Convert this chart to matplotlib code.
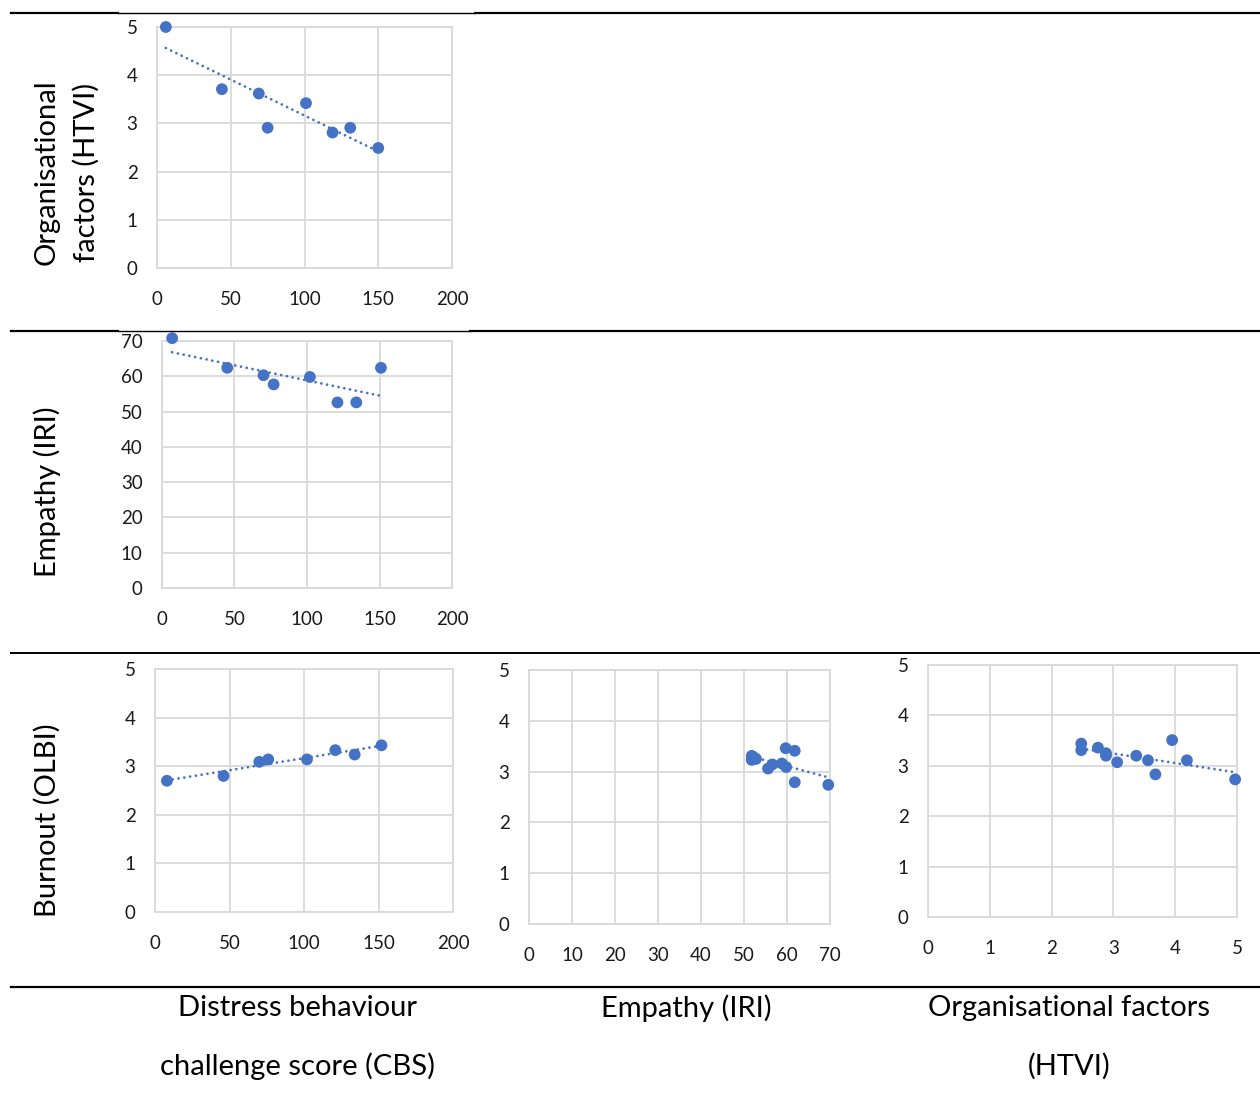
import numpy as np
import matplotlib
matplotlib.use("Agg")
import matplotlib.pyplot as plt
from matplotlib.lines import Line2D

# ---------------- data ----------------
cbs_htvi_x = [6, 44, 69, 75, 101, 119, 131, 150]
htvi_y = [5.0, 3.71, 3.62, 2.91, 3.42, 2.81, 2.91, 2.49]

cbs_iri_x = [7, 45, 70, 77, 102, 121, 134, 151]
iri_y = [70.8, 62.4, 60.3, 57.7, 59.8, 52.6, 52.6, 62.4]

cbs_olbi_x = [8, 46, 70, 76, 102, 121, 134, 152]
olbi_cbs_y = [2.70, 2.80, 3.09, 3.14, 3.14, 3.33, 3.24, 3.43]

iri_olbi_x = [51.8, 51.8, 52.3, 52.8, 55.6, 56.6, 58.8, 59.8, 59.7, 61.8, 61.8, 69.6]
olbi_iri_y = [3.31, 3.23, 3.28, 3.25, 3.06, 3.14, 3.16, 3.09, 3.46, 3.41, 2.79, 2.74]

htvi_olbi_x = [2.48, 2.48, 2.75, 2.88, 2.88, 3.06, 3.37, 3.56, 3.68, 3.95, 4.19, 4.97]
olbi_htvi_y = [3.44, 3.31, 3.36, 3.25, 3.20, 3.07, 3.20, 3.11, 2.83, 3.51, 3.11, 2.73]

row_labels = [["Organisational", "factors (HTVI)"], ["Empathy (IRI)"], ["Burnout (OLBI)"]]
col_labels = [["Distress behaviour", "challenge score (CBS)"], ["Empathy (IRI)"],
              ["Organisational factors", "(HTVI)"]]

# ---------------- styling ----------------
W, H = 1260, 1100
BLUE = "#4472C4"
GRID = "#d9d9d9"
FONT = "Lato"
TICK_FS = 13.5
LABEL_FS = 21

plt.rcParams["font.family"] = [FONT, "DejaVu Sans"]

fig = plt.figure(figsize=(W / 100, H / 100), dpi=100)


def rect(l, t, r, b):
    return [l / W, 1 - b / H, (r - l) / W, (b - t) / H]


def panel(box, x, y, xmax, xstep, ymax, ystep):
    ax = fig.add_axes(rect(*box))
    ax.set_xlim(0, xmax)
    ax.set_ylim(0, ymax)
    ax.set_xticks(np.arange(0, xmax + xstep / 2, xstep))
    ax.set_yticks(np.arange(0, ymax + ystep / 2, ystep))
    ax.grid(True, color=GRID, linewidth=1.3)
    ax.set_axisbelow(True)
    for s in ax.spines.values():
        s.set_color(GRID)
        s.set_linewidth(1.3)
    ax.tick_params(axis="both", length=0, labelsize=TICK_FS, colors="#1a1a1a")
    ax.tick_params(axis="x", pad=16.5)
    ax.tick_params(axis="y", pad=14)
    xa = np.array(x, dtype=float)
    ya = np.array(y, dtype=float)
    k, c = np.polyfit(xa, ya, 1)
    xs = np.array([xa.min(), xa.max()])
    ax.plot(xs, k * xs + c, color=BLUE, linewidth=2.0, linestyle=(0, (0.01, 2.1)),
            dash_capstyle="round", zorder=2)
    ax.scatter(xa, ya, s=72, color=BLUE, edgecolors="none", zorder=3, clip_on=False)
    return ax


panel((157, 27, 452, 268), cbs_htvi_x, htvi_y, 200, 50, 5, 1)
panel((162, 341, 452, 588), cbs_iri_x, iri_y, 200, 50, 70, 10)
panel((155, 669, 453, 912), cbs_olbi_x, olbi_cbs_y, 200, 50, 5, 1)
panel((529, 670, 830, 924), iri_olbi_x, olbi_iri_y, 70, 10, 5, 1)
panel((928, 665, 1237, 917), htvi_olbi_x, olbi_htvi_y, 5, 1, 5, 1)


def ftext(x, y, s, **kw):
    fig.text(x / W, 1 - y / H, s, fontsize=LABEL_FS, color="black", **kw)


# row labels (rotated)
ftext(47, 172, row_labels[0][0], rotation=90, ha="center", va="center")
ftext(86, 172, row_labels[0][1], rotation=90, ha="center", va="center")
ftext(47, 492, row_labels[1][0], rotation=90, ha="center", va="center")
ftext(47, 820, row_labels[2][0], rotation=90, ha="center", va="center")

# column labels
ftext(298, 1008, col_labels[0][0], ha="center", va="center")
ftext(298, 1066, col_labels[0][1], ha="center", va="center")
ftext(686, 1008, col_labels[1][0], ha="center", va="center")
ftext(1069, 1008, col_labels[2][0], ha="center", va="center")
ftext(1069, 1066, col_labels[2][1], ha="center", va="center")


# separator lines
def hline(y, x0, x1, lw):
    fig.add_artist(Line2D([x0 / W, x1 / W], [1 - y / H, 1 - y / H],
                          transform=fig.transFigure, color="black", linewidth=lw))


hline(12.5, 11, 118, 1.6)
hline(12.5, 118, 475, 1.0)
hline(12.5, 475, 1260, 1.6)
hline(330.5, 11, 118, 1.6)
hline(330.5, 118, 470, 1.0)
hline(330.5, 470, 1260, 1.6)
hline(653, 11, 1260, 1.4)
hline(987, 11, 1260, 1.6)

fig.savefig("out.png", dpi=100)
